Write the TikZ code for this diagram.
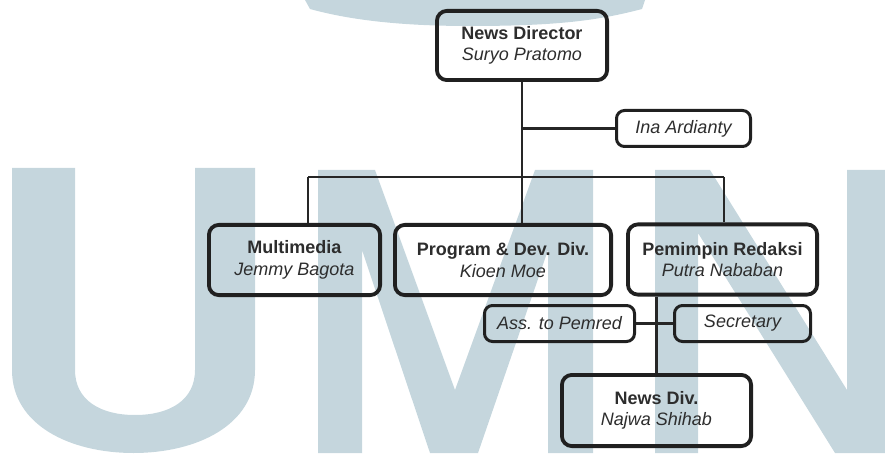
\documentclass[tikz,border=0pt]{standalone}
\usepackage{fontspec}
\setmainfont{Liberation Sans}
\definecolor{wmc}{RGB}{197,214,221}
\definecolor{boxc}{RGB}{32,32,32}
\definecolor{linec}{RGB}{38,38,38}
\definecolor{txtc}{RGB}{45,45,45}
\begin{document}
\begin{tikzpicture}[x=1pt,y=-1pt,
  box/.style={draw=boxc, line width=3.8pt, rounded corners=10pt, align=center, inner sep=0pt, text=txtc, font=\fontsize{18}{21.5}\selectfont},
  small/.style={draw=boxc, line width=3pt, rounded corners=8pt, align=center, inner sep=0pt, text=txtc, font=\fontsize{18}{21.5}\selectfont\itshape, minimum height=36pt},
  conn/.style={draw=linec, line width=2.3pt},
  wm/.style={fill=wmc, draw=none}]
\useasboundingbox (0,0) rectangle (885,462);
% watermark
\begin{scope}
\clip (0,0) rectangle (885,462);
\fill[wmc] (305,0) -- (645,0) -- (642,9) .. controls (600,20) and (560,26) .. (470,26) .. controls (400,26) and (350,20) .. (310,9) -- cycle;
\fill[wmc] (12,168) -- (12,370) .. controls (12,425) and (70,453) .. (133.5,453) .. controls (197,453) and (255,425) .. (255,370) -- (255,168) -- (195,168) -- (195,370) .. controls (195,400) and (170,415) .. (135,415) .. controls (100,415) and (75,400) .. (75,370) -- (75,168) -- cycle;
\fill[wmc] (318,453) -- (318,170) -- (375,170) -- (455,390) -- (535,170) -- (593,170) -- (593,453) -- (548,453) -- (548,250) -- (478,453) -- (430,453) -- (362,250) -- (362,453) -- cycle;
\fill[wmc] (655,453) -- (655,170) -- (710,170) -- (847,390) -- (847,170) -- (895,170) -- (895,453) -- (835,453) -- (698,233) -- (698,453) -- cycle;
\end{scope}
% nodes
\node[box, minimum width=170.2pt, minimum height=69.2pt] (nd) at (522,45.5) {\textbf{News Director}\\\textit{Suryo Pratomo}};
\node[small, minimum width=134pt] (ina) at (683.5,128.5) {Ina Ardianty};
\node[box, minimum width=171.2pt, minimum height=70.2pt] (mm) at (294.5,260) {\textbf{Multimedia}\\\textit{Jemmy Bagota}};
\node[box, minimum width=216.2pt, minimum height=70.2pt] (pd) at (503,260) {\textbf{Program \& Dev. Div.}\\\textit{Kioen Moe}};
\node[box, minimum width=189.2pt, minimum height=70.2pt] (pr) at (722.5,259.5) {\textbf{Pemimpin Redaksi}\\\textit{Putra Nababan}};
\node[small, minimum width=150pt] (ass) at (559.5,323.5) {Ass. to Pemred};
\node[small, minimum width=136pt] (sec) at (742.5,323.5) {Secretary};
\node[box, minimum width=189.2pt, minimum height=71.2pt] (nv) at (656.5,410.5) {\textbf{News Div.}\\\textit{Najwa Shihab}};
% connectors
\coordinate (busL) at (308,177);
\coordinate (busR) at (724,177);
\coordinate (busM) at (522,177);
\draw[conn] (nd.south) -- (busM);
\draw[conn] (ina.west) -- (ina.west -| nd.south);
\draw[conn] (busL) -- (busR);
\draw[conn] (busL) -- (busL |- mm.north);
\draw[conn] (busM) -- (busM |- pd.north);
\draw[conn] (busR) -- (busR |- pr.north);
\draw[conn] (nv.north |- pr.south) -- (nv.north);
\draw[conn] (ass.east) -- (ass.east -| nv.north);
\draw[conn] (sec.west) -- (sec.west -| nv.north);
\end{tikzpicture}
\end{document}
